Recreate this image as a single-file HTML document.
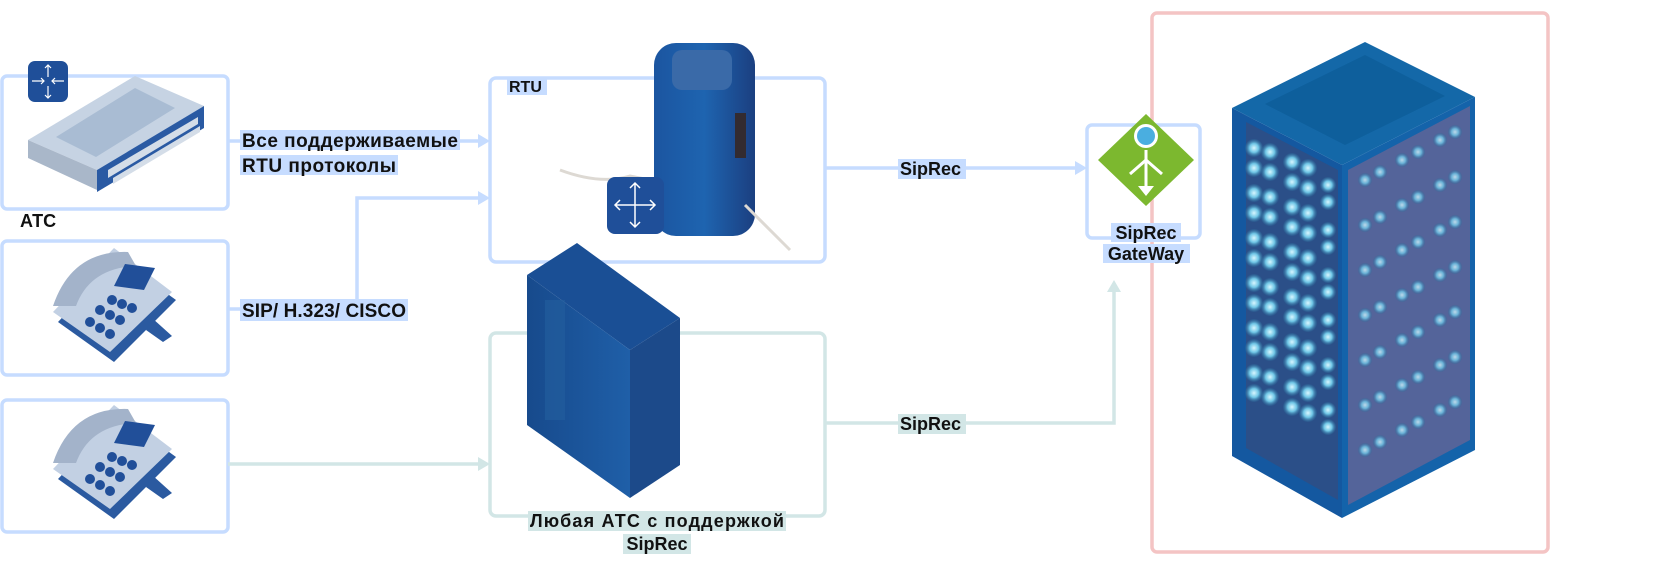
<!DOCTYPE html>
<html><head><meta charset="utf-8"><style>
html,body{margin:0;padding:0;background:#fff;}
svg{display:block;}
text{font-family:"Liberation Sans",Arial,sans-serif;font-weight:bold;fill:#111;}
</style></head><body>
<svg width="1680" height="567" viewBox="0 0 1680 567" xmlns="http://www.w3.org/2000/svg">
<defs>
<radialGradient id="glow"><stop offset="0" stop-color="#d8f6ff"/><stop offset="0.5" stop-color="#6fc6e6"/><stop offset="1" stop-color="#2a6a9a" stop-opacity="0.3"/></radialGradient>
<linearGradient id="cyl" x1="0" x2="1"><stop offset="0" stop-color="#1b55a0"/><stop offset="0.5" stop-color="#1e64b0"/><stop offset="1" stop-color="#1b3f80"/></linearGradient>
<linearGradient id="cab" x1="0" x2="1"><stop offset="0" stop-color="#174a8c"/><stop offset="1" stop-color="#1f5fa8"/></linearGradient>
</defs>

<g fill="none" stroke-width="3.5">
<rect x="2" y="76" width="226" height="133" rx="5" stroke="#c6dcff"/>
<rect x="2" y="241" width="226" height="134" rx="5" stroke="#c6dcff"/>
<rect x="2" y="400" width="226" height="132" rx="5" stroke="#c6dcff"/>
<rect x="490" y="78" width="335" height="184" rx="6" stroke="#c6dcff"/>
<rect x="490" y="333" width="335" height="183" rx="6" stroke="#d2e6e6"/>
<rect x="1087" y="125" width="113" height="113" rx="5" stroke="#c6dcff"/>
<rect x="1152" y="13" width="396" height="539" rx="5" stroke="#f4c4c4"/>
</g>

<g fill="none" stroke-width="3.5">
<path d="M228 141 H480" stroke="#c6dcff"/>
<path d="M228 309 H357 V198 H480" stroke="#c6dcff"/>
<path d="M228 464 H480" stroke="#d2e6e6"/>
<path d="M825 168 H1077" stroke="#c6dcff"/>
<path d="M825 423 H1114 V290" stroke="#d2e6e6"/>
</g>
<g>
<polygon points="490,141 478,134 478,148" fill="#c6dcff"/>
<polygon points="490,198 478,191 478,205" fill="#c6dcff"/>
<polygon points="490,464 478,457 478,471" fill="#d2e6e6"/>
<polygon points="1087,168 1075,161 1075,175" fill="#c6dcff"/>
<polygon points="1114,280 1107,292 1121,292" fill="#d2e6e6"/>
</g>

<!-- switch -->
<g>
<polygon points="28,140 135,76 204,106 97,170" fill="#c6d3e3"/>
<polygon points="56,137 135,88 175,108 96,157" fill="#a9bcd3"/>
<polygon points="28,140 97,170 97,190 28,158" fill="#a9b7c9"/>
<polygon points="97,170 204,106 204,128 97,192" fill="#2a5aa3"/>
<polygon points="108,170 198,117 198,124 108,178" fill="#d4dde8"/>
<polygon points="113,178 200,126 200,132 113,184" fill="#d4dde8"/>
<rect x="28" y="61" width="40" height="41" rx="7" fill="#1f4f99"/>
<g stroke="#fff" stroke-width="1.2" fill="none"><path d="M48 65v12M48 86v12M32 81h12M52 81h12M45 68l3-3 3 3M45 95l3 3 3-3M41 78l3 3-3 3M55 78l-3 3 3 3"/></g>
</g>
<text x="20" y="227" font-size="18">АТС</text>

<!-- phones -->
<g id="ph">
<polygon points="58,322 118,258 176,300 114,362" fill="#2b5aa0"/>
<polygon points="53,312 114,248 172,292 110,352" fill="#c2d0e3"/>
<path d="M53 306 Q72 250 128 252 L136 266 Q90 268 76 306 Z" fill="#a3b3ca"/>
<polygon points="125,264 155,268 144,290 114,286" fill="#214f99"/>
<g fill="#214f99"><circle cx="112" cy="300" r="5"/><circle cx="122" cy="304" r="5"/><circle cx="132" cy="308" r="5"/><circle cx="100" cy="310" r="5"/><circle cx="110" cy="315" r="5"/><circle cx="120" cy="320" r="5"/><circle cx="90" cy="322" r="5"/><circle cx="100" cy="328" r="5"/><circle cx="110" cy="334" r="5"/></g>
<polygon points="152,318 172,336 163,342 146,330" fill="#2b5aa0"/>
</g>
<use href="#ph" y="157"/>

<rect x="240" y="130" width="220" height="20" fill="#c6dcff"/>
<rect x="240" y="155" width="158" height="20" fill="#c6dcff"/>
<text x="242" y="147" font-size="19" textLength="216">Все поддерживаемые</text>
<text x="242" y="172" font-size="19" textLength="154">RTU протоколы</text>
<rect x="240" y="299" width="168" height="22" fill="#c6dcff"/>
<text x="242" y="317" font-size="19" textLength="164">SIP/ H.323/ CISCO</text>

<!-- RTU device -->
<rect x="507" y="77" width="40" height="18" fill="#c6dcff"/>
<text x="509" y="92" font-size="16">RTU</text>
<path d="M560 170 Q600 185 630 176 L650 180" stroke="#ddd9d3" stroke-width="3" fill="none"/>
<rect x="654" y="43" width="101" height="193" rx="22" fill="url(#cyl)"/>
<rect x="672" y="50" width="60" height="40" rx="10" fill="#3a6aa8"/>
<rect x="735" y="113" width="11" height="45" fill="#332b30"/>
<path d="M745 205 L790 250" stroke="#ddd9d3" stroke-width="3"/>
<rect x="607" y="177" width="57" height="57" rx="8" fill="#1f4f99"/>
<g stroke="#fff" stroke-width="1.5" fill="none"><path d="M635 183v44M615 205h40M630 188l5-5 5 5M630 222l5 5 5-5M620 200l-5 5 5 5M650 200l5 5-5 5"/></g>

<!-- cabinet -->
<polygon points="527,275 577,243 680,318 630,350" fill="#1a4f95"/>
<polygon points="527,275 630,350 630,498 527,425" fill="url(#cab)"/>
<polygon points="630,350 680,318 680,465 630,498" fill="#1c4a8a"/>
<rect x="545" y="300" width="20" height="120" fill="#235f9f" opacity="0.6"/>

<rect x="528" y="511" width="258" height="20" fill="#d2e6e6"/>
<text x="657" y="527" font-size="18" text-anchor="middle" textLength="254">Любая АТС с поддержкой</text>
<rect x="623" y="534" width="68" height="20" fill="#d2e6e6"/>
<text x="657" y="550" font-size="18" text-anchor="middle">SipRec</text>

<rect x="898" y="159" width="68" height="20" fill="#c6dcff"/>
<text x="900" y="175" font-size="18">SipRec</text>
<rect x="898" y="414" width="68" height="20" fill="#d2e6e6"/>
<text x="900" y="430" font-size="18">SipRec</text>

<!-- gateway -->
<polygon points="1146,114 1194,160 1146,206 1098,160" fill="#7cb82f"/>
<circle cx="1146" cy="136" r="12" fill="#fff"/><circle cx="1146" cy="136" r="9" fill="#4aaee0"/>
<g stroke="#fff" stroke-width="3" fill="none"><path d="M1146 150v40M1146 160l-16 14M1146 160l16 14"/></g>
<polygon points="1138,186 1154,186 1146,196" fill="#fff"/>
<rect x="1111" y="223" width="70" height="19" fill="#c6dcff"/>
<text x="1146" y="239" font-size="18" text-anchor="middle">SipRec</text>
<rect x="1103" y="244" width="87" height="19" fill="#c6dcff"/>
<text x="1146" y="260" font-size="18" text-anchor="middle">GateWay</text>

<!-- rack -->
<polygon points="1232,108 1365,42 1475,97 1342,165" fill="#1468a8"/>
<polygon points="1265,104 1365,55 1445,96 1345,145" fill="#0e5f9c"/>
<polygon points="1232,108 1342,165 1342,518 1232,456" fill="#1458a0"/>
<polygon points="1342,165 1475,97 1475,450 1342,518" fill="#1463aa"/>
<polygon points="1246,122 1338,170 1338,500 1246,448" fill="#2b4f88"/>
<polygon points="1348,170 1470,106 1470,440 1348,505" fill="#54649a"/>
<g fill="url(#glow)">
<g id="col">
<circle cx="1254" cy="148" r="9"/><circle cx="1254" cy="168" r="9"/><circle cx="1270" cy="152" r="9"/><circle cx="1270" cy="172" r="9"/>
<circle cx="1292" cy="162" r="9"/><circle cx="1292" cy="182" r="9"/><circle cx="1308" cy="168" r="9"/><circle cx="1308" cy="188" r="9"/>
<circle cx="1328" cy="185" r="8"/><circle cx="1328" cy="202" r="8"/>
</g>
<use href="#col" y="45"/><use href="#col" y="90"/><use href="#col" y="135"/><use href="#col" y="180"/><use href="#col" y="225"/>
<g id="side" opacity="0.8">
<circle cx="1365" cy="180" r="7"/><circle cx="1380" cy="172" r="7"/><circle cx="1402" cy="160" r="7"/><circle cx="1418" cy="152" r="7"/><circle cx="1440" cy="140" r="7"/><circle cx="1455" cy="132" r="7"/>
</g>
<use href="#side" y="45"/><use href="#side" y="90"/><use href="#side" y="135"/><use href="#side" y="180"/><use href="#side" y="225"/><use href="#side" y="270"/>
</g>
</svg>
</body></html>
